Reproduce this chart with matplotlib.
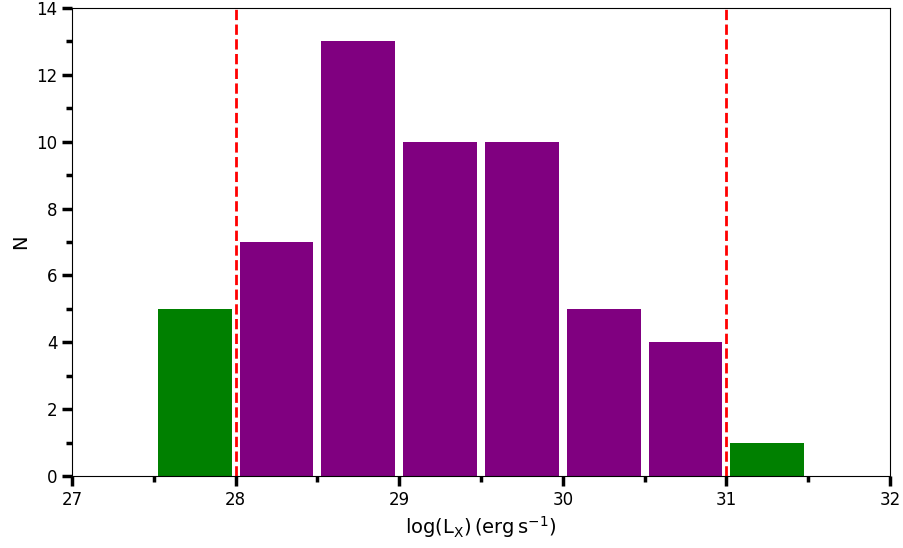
import matplotlib
matplotlib.use("Agg")
import matplotlib.pyplot as plt
from matplotlib.ticker import MultipleLocator

plt.rcParams["mathtext.fontset"] = "dejavusans"

# Histogram of X-ray luminosities (bin left edges and counts)
bin_left = [27.5, 28.0, 28.5, 29.0, 29.5, 30.0, 30.5, 31.0]
counts = [5, 7, 13, 10, 10, 5, 4, 1]
bar_colors = ["green", "purple", "purple", "purple", "purple", "purple", "purple", "green"]
bin_width = 0.5
limits = [28.0, 31.0]

fig = plt.figure(figsize=(9.04, 5.48), dpi=100)
ax = fig.add_axes([72 / 904, 1 - 476 / 548, (890 - 72) / 904, (476 - 8) / 548])

centers = [b + bin_width / 2 for b in bin_left]
ax.bar(centers, counts, width=bin_width * 0.9, color=bar_colors, zorder=1)

for v in limits:
    ax.axvline(v, color="red", linestyle="--", linewidth=2, zorder=2)

ax.set_xlim(27, 32)
ax.set_ylim(0, 14)
ax.xaxis.set_major_locator(MultipleLocator(1))
ax.xaxis.set_minor_locator(MultipleLocator(0.5))
ax.yaxis.set_major_locator(MultipleLocator(2))
ax.yaxis.set_minor_locator(MultipleLocator(1))
ax.tick_params(which="major", direction="out", length=7, width=2.5, labelsize=12)
ax.tick_params(which="minor", direction="out", length=4, width=2.5)

ax.set_xlabel(r"$\mathrm{log(L_X)\,(erg\,s^{-1})}$", fontsize=14)
ax.set_ylabel("N", fontsize=14)

fig.savefig("out.png", dpi=100)
